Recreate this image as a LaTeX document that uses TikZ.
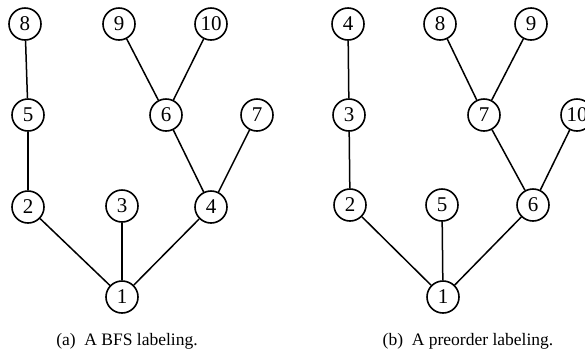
\documentclass[tikz,border=0pt]{standalone}
\usepackage{fontspec}
\setmainfont{Liberation Serif}
\begin{document}
\begin{tikzpicture}[x=1pt,y=-1pt,
  vertex/.style={draw,circle,line width=1.6pt,minimum size=32pt,inner sep=0pt,
    font=\fontsize{21}{22}\selectfont},
  edge/.style={line width=1.5pt},
  caption/.style={font=\fontsize{17.5}{20}\selectfont,anchor=base}]
\clip (0,0) rectangle (585,357);
\useasboundingbox (0,0) rectangle (585,357);
% (a) breadth-first labeling
\node[vertex] (a8)  at (25,24)   {8};
\node[vertex] (a9)  at (119,24)  {9};
\node[vertex] (a10) at (211,24)  {10};
\node[vertex] (a5)  at (28,115)  {5};
\node[vertex] (a6)  at (166,115) {6};
\node[vertex] (a7)  at (257,115) {7};
\node[vertex] (a2)  at (28,207)  {2};
\node[vertex] (a3)  at (122,206) {3};
\node[vertex] (a4)  at (211,207) {4};
\node[vertex] (a1)  at (122,297) {1};
\draw[edge] (a8) -- (a5);
\draw[edge] (a5) -- (a2);
\draw[edge] (a2) -- (a1);
\draw[edge] (a3) -- (a1);
\draw[edge] (a4) -- (a1);
\draw[edge] (a6) -- (a4);
\draw[edge] (a7) -- (a4);
\draw[edge] (a9) -- (a6);
\draw[edge] (a10) -- (a6);
\node[caption] (capa) at (127,345) {(a)\enspace A BFS labeling.};
% (b) preorder labeling
\node[vertex] (b4)  at (348,24)  {4};
\node[vertex] (b8)  at (440,24)  {8};
\node[vertex] (b9)  at (531,24)  {9};
\node[vertex] (b3)  at (349,115) {3};
\node[vertex] (b7)  at (484,115) {7};
\node[vertex] (b10) at (577,115) {10};
\node[vertex] (b2)  at (350,205) {2};
\node[vertex] (b5)  at (442,205) {5};
\node[vertex] (b6)  at (533,205) {6};
\node[vertex] (b1)  at (443,297) {1};
\draw[edge] (b4) -- (b3);
\draw[edge] (b3) -- (b2);
\draw[edge] (b2) -- (b1);
\draw[edge] (b5) -- (b1);
\draw[edge] (b6) -- (b1);
\draw[edge] (b7) -- (b6);
\draw[edge] (b10) -- (b6);
\draw[edge] (b8) -- (b7);
\draw[edge] (b9) -- (b7);
\node[caption] (capb) at (468,345) {(b)\enspace A preorder labeling.};
\end{tikzpicture}
\end{document}
